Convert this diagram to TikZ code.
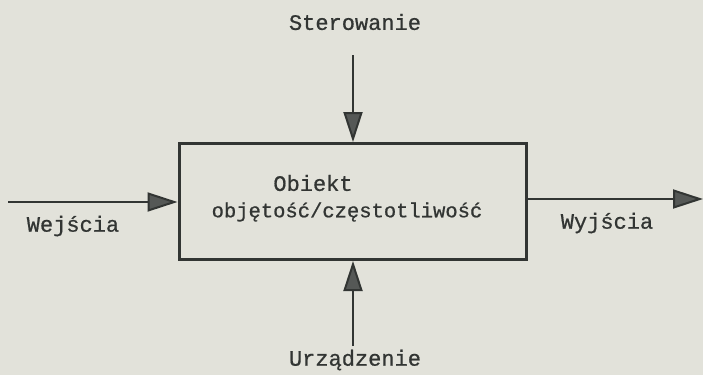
\documentclass[tikz,border=0pt]{standalone}
\usepackage{fontspec}
\newfontfamily\twfont[FakeBold=0.7]{Liberation Mono}
\usetikzlibrary{arrows.meta}
\definecolor{paper}{RGB}{226,226,218}
\definecolor{ink}{RGB}{50,53,51}
\definecolor{tipc}{RGB}{85,88,86}
\tikzset{
  lbl/.style={font=\twfont\fontsize{22}{24}\selectfont, text=ink, inner sep=0pt},
  objbox/.style={draw=ink, line width=3pt, minimum width=347pt, minimum height=116pt, inner sep=0pt},
  flow/.style={draw=ink, line width=2pt, -{Triangle[length=30pt,width=19pt,fill=tipc]}}
}
\begin{document}
\begin{tikzpicture}[x=1pt,y=-1pt]
\fill[paper] (0,0) rectangle (703,375);
\useasboundingbox (0,0) rectangle (703,375);
\node[objbox] (box) at (352.5,201.5) {};
\node[lbl] (obj1) at (313,183) {Obiekt};
\node[lbl, font=\twfont\fontsize{20.5}{24}\selectfont] (obj2) at (347,212) {objętość/częstotliwość};
\node[lbl] (ster) at (355,22) {Sterowanie};
\node[lbl] (urz) at (355,360) {Urządzenie};
\node[lbl] (wej) at (73,226) {Wejścia};
\node[lbl] (wyj) at (607,223) {Wyjścia};
\coordinate (inS) at (8,202);
\coordinate (outE) at (703,199);
\coordinate (topS) at (353,55);
\coordinate (botS) at (353,346);
\draw[flow] (inS) -- (box.west |- inS);
\draw[flow] (box.east |- outE) -- (outE);
\draw[flow] (topS) -- (box.north -| topS);
\draw[flow] (botS) -- (box.south -| botS);
\end{tikzpicture}
\end{document}
